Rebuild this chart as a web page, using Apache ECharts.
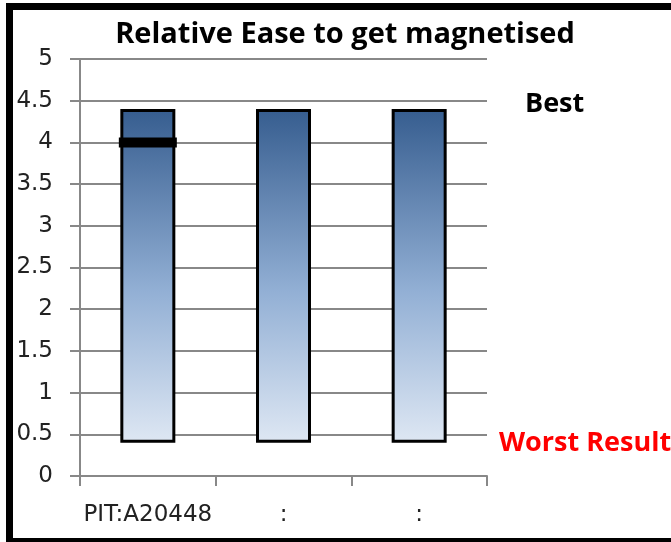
<!DOCTYPE html>
<html><head><meta charset="utf-8">
<script src="https://cdn.jsdelivr.net/npm/echarts@6/dist/echarts.min.js"></script>
<style>html,body{margin:0;padding:0;background:#fff}#c{width:671px;height:542px}</style>
</head><body><div id="c"></div>
<script>
var categories = ['PIT:A20448', ':', ':'];
var barBase = [0.4, 0.4, 0.4];
var barTop = [4.4, 4.4, 4.4];
var markerValues = [4.0, null, null];
var yTicks = [0, 0.5, 1, 1.5, 2, 2.5, 3, 3.5, 4, 4.5, 5];

var boldFont = 'Open Sans';
var axisFont = 'DejaVu Sans';
var chart = echarts.init(document.getElementById('c'));
var span = barTop.map(function (t, i) { return +(t - barBase[i]).toFixed(4); });
chart.setOption({
  animation: false,
  title: {
    text: 'Relative Ease to get magnetised',
    left: 340, top: 15, textAlign: 'center',
    textStyle: { fontFamily: boldFont, fontSize: 29, fontWeight: 'bold', color: '#000' }
  },
  grid: { left: 80, right: 184, top: 59, bottom: 66, containLabel: false },
  xAxis: {
    type: 'category', data: categories,
    axisLine: { lineStyle: { color: '#888', width: 2 } },
    axisTick: { show: true, interval: 0, length: 10, lineStyle: { color: '#888', width: 2 } },
    axisLabel: { interval: 0, margin: 28, fontFamily: axisFont, fontSize: 23, color: '#222' }
  },
  yAxis: {
    type: 'value', min: yTicks[0], max: yTicks[yTicks.length - 1], interval: 0.5,
    axisLine: { show: true, lineStyle: { color: '#888', width: 2 } },
    axisTick: { show: true, length: 10, lineStyle: { color: '#888', width: 2 } },
    splitLine: { lineStyle: { color: '#888', width: 2 } },
    axisLabel: { margin: 27, fontFamily: axisFont, fontSize: 23, color: '#222' }
  },
  series: [
    { type: 'bar', stack: 's', data: barBase, barWidth: 55, itemStyle: { color: 'transparent' }, silent: true },
    { type: 'bar', stack: 's', data: span, barWidth: 55,
      itemStyle: {
        borderColor: '#000', borderWidth: 3,
        color: new echarts.graphic.LinearGradient(0, 0, 0, 1, [
          { offset: 0, color: '#365D8F' },
          { offset: 0.55, color: '#93B0D5' },
          { offset: 1, color: '#DEE7F3' }
        ])
      }
    },
    { type: 'scatter', data: markerValues, symbol: 'rect', symbolSize: [58, 10],
      itemStyle: { color: '#000', opacity: 1 }, z: 5 }
  ],
  graphic: [
    { type: 'rect', shape: { x: 9.5, y: 6.5, width: 700, height: 535 },
      style: { fill: 'none', stroke: '#000', lineWidth: 7 }, z: 100 },
    { type: 'text', x: 525, y: 104,
      style: { text: 'Best', fontFamily: boldFont, fontSize: 27, fontWeight: 'bold', fill: '#000', verticalAlign: 'middle' } },
    { type: 'text', x: 499, y: 443,
      style: { text: 'Worst Result', fontFamily: boldFont, fontSize: 27, fontWeight: 'bold', fill: '#FF0000', verticalAlign: 'middle' } }
  ]
});
</script></body></html>
